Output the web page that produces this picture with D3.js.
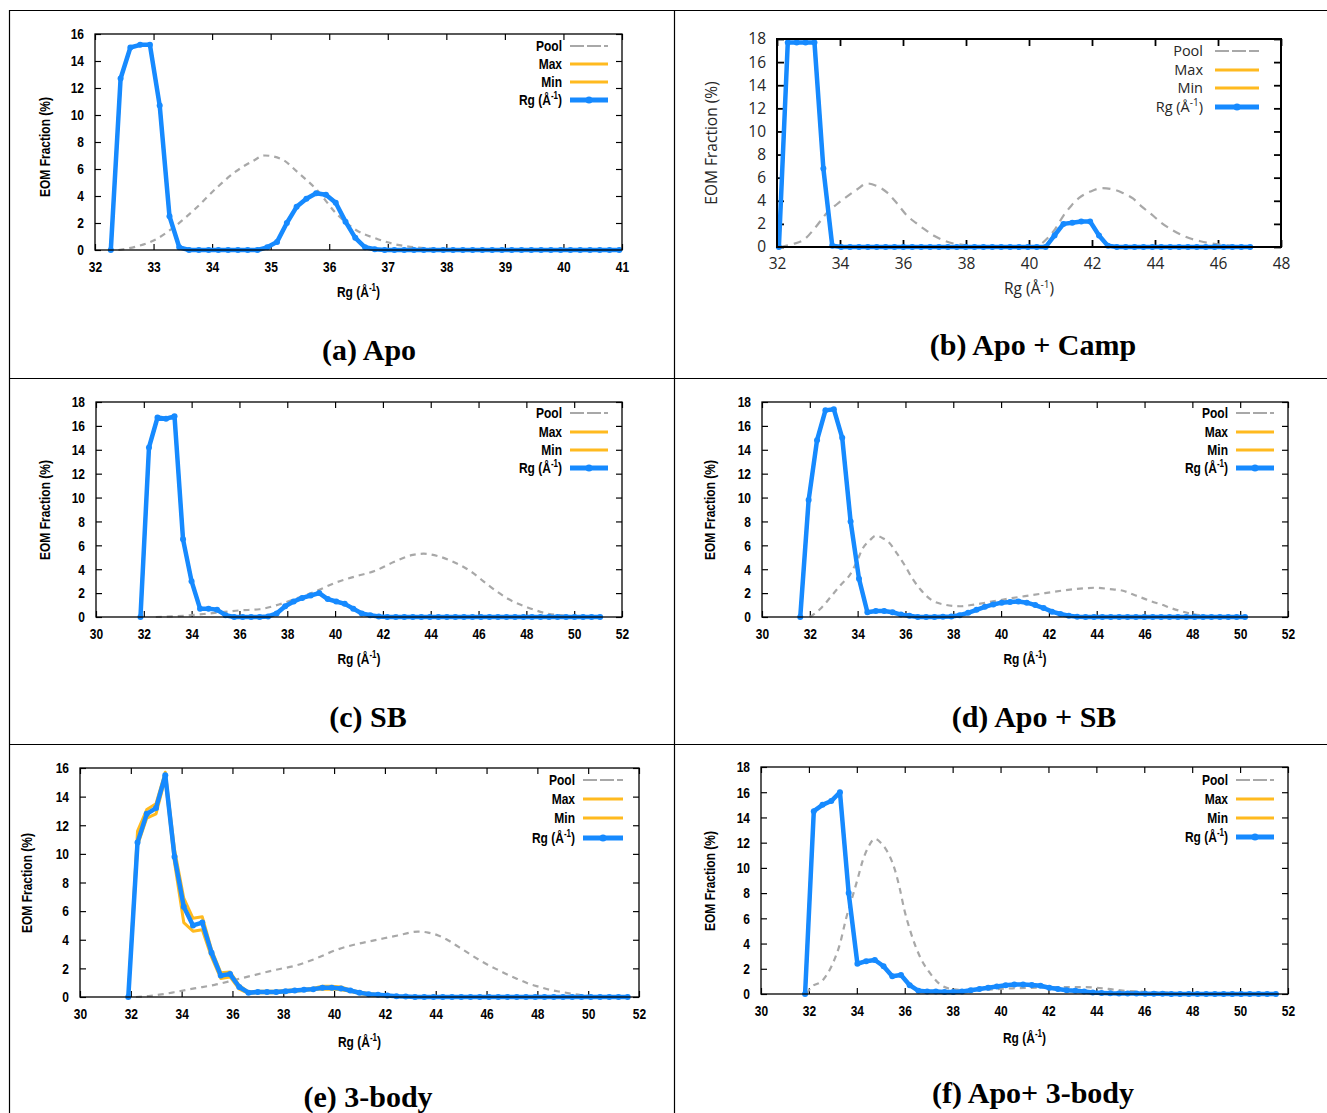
<!DOCTYPE html>
<html>
<head>
<meta charset="utf-8">
<script src="https://cdn.jsdelivr.net/npm/d3@7"></script>
<style>
  body { margin: 0; background: #fff; }
</style>
</head>
<body>
<svg id="fig" width="1327" height="1113"></svg>
<script>
// ---- data ----
// Rg series are sampled on regular bins: start + i * step

// (a) Apo
const aXTicks = [32, 33, 34, 35, 36, 37, 38, 39, 40, 41];
const aYTicks = [0, 2, 4, 6, 8, 10, 12, 14, 16];
const aRgStart = 32.27, aRgStep = 0.167;
const aRg = [0, 12.7, 15.0, 15.2, 15.2, 10.7, 2.5, 0.2,
  0, 0, 0, 0, 0, 0, 0, 0,
  0.2, 0.6, 2.0, 3.2, 3.8, 4.2, 4.1, 3.5, 2.1, 0.9, 0.2, 0.05,
  0, 0, 0, 0, 0, 0, 0, 0, 0, 0, 0, 0, 0, 0, 0, 0, 0, 0, 0, 0, 0, 0, 0, 0, 0];
const aPool = [[32.4, 0], [32.7, 0.25], [33.0, 0.7], [33.35, 1.7], [33.7, 3.0], [34.1, 4.7],
  [34.4, 5.8], [34.7, 6.6], [34.9, 7.0], [35.2, 6.7], [35.45, 5.8], [35.8, 4.4], [36.1, 2.8],
  [36.45, 1.5], [36.8, 0.85], [37.1, 0.45], [37.45, 0.2], [38.1, 0.05], [39, 0], [41, 0]];

// (b) Apo + Camp
const bXTicks = [32, 34, 36, 38, 40, 42, 44, 46, 48];
const bYTicks = [0, 2, 4, 6, 8, 10, 12, 14, 16, 18];
const bRgStart = 32.06, bRgStep = 0.2823;
const bRg = [0, 17.7, 17.7, 17.7, 17.7, 6.8, 0.1,
  0, 0, 0, 0, 0, 0, 0, 0, 0, 0, 0, 0, 0, 0, 0, 0, 0, 0, 0, 0, 0, 0, 0,
  0, 1.0, 2.0, 2.1, 2.2, 2.2, 1.0, 0.1,
  0, 0, 0, 0, 0, 0, 0, 0, 0, 0, 0, 0, 0, 0, 0, 0];
const bPool = [[32.1, 0], [32.5, 0.25], [32.87, 0.66], [33.25, 1.8], [33.6, 3.0], [33.9, 3.7],
  [34.24, 4.4], [34.55, 5.0], [34.86, 5.5], [35.15, 5.3], [35.5, 4.7], [35.8, 3.8], [36.1, 2.8],
  [36.4, 2.1], [36.7, 1.5], [37.0, 0.95], [37.35, 0.5], [37.98, 0.15], [38.5, 0.03], [39.5, 0],
  [40.2, 0.05], [40.6, 0.8], [40.84, 1.6], [41.09, 2.7], [41.35, 3.6], [41.59, 4.25], [41.95, 4.8],
  [42.33, 5.1], [42.65, 5.0], [42.96, 4.7], [43.3, 4.2], [43.58, 3.5], [43.9, 2.8], [44.2, 2.1],
  [44.5, 1.55], [44.8, 1.1], [45.1, 0.75], [45.44, 0.5], [46.06, 0.2], [46.7, 0.05], [47.0, 0]];

// (c) SB
const cXTicks = [30, 32, 34, 36, 38, 40, 42, 44, 46, 48, 50, 52];
const cYTicks = [0, 2, 4, 6, 8, 10, 12, 14, 16, 18];
const cRgStart = 31.86, cRgStep = 0.356;
const cRg = [0, 14.2, 16.7, 16.6, 16.8, 6.5, 3.0, 0.7, 0.7, 0.6, 0.15,
  0, 0, 0, 0,
  0.05, 0.3, 0.9, 1.3, 1.6, 1.8, 2.0, 1.5, 1.3, 1.1, 0.7, 0.3, 0.15, 0.05,
  0, 0, 0, 0, 0, 0, 0, 0, 0, 0, 0, 0, 0, 0, 0, 0, 0, 0, 0, 0, 0, 0, 0, 0, 0, 0];
const cPool = [[32.5, 0], [33.65, 0.1], [34.5, 0.25], [35.25, 0.4], [36.0, 0.55], [36.85, 0.65],
  [37.65, 1.05], [38.45, 1.6], [39.25, 2.2], [40.05, 2.9], [40.85, 3.4], [41.65, 3.85], [42.45, 4.6],
  [43.25, 5.2], [43.7, 5.3], [44.3, 5.1], [44.85, 4.7], [45.65, 3.85], [46.45, 2.6], [47.25, 1.5],
  [48.05, 0.8], [48.85, 0.3], [49.65, 0.1], [50.5, 0.02], [51, 0]];

// (d) Apo + SB
const dXTicks = [30, 32, 34, 36, 38, 40, 42, 44, 46, 48, 50, 52];
const dYTicks = [0, 2, 4, 6, 8, 10, 12, 14, 16, 18];
const dRgStart = 31.6, dRgStep = 0.351;
const dRg = [0, 9.8, 14.8, 17.3, 17.4, 15.0, 8.0, 3.2, 0.4, 0.5, 0.5, 0.4, 0.2, 0.1,
  0, 0, 0,
  0.02, 0.05, 0.15, 0.35, 0.6, 0.85, 1.05, 1.2, 1.25, 1.3, 1.2, 1.0, 0.75, 0.45, 0.25, 0.1, 0.03,
  0, 0, 0, 0, 0, 0, 0, 0, 0, 0, 0, 0, 0, 0, 0, 0, 0, 0, 0, 0];
const dPool = [[32.0, 0], [32.08, 0.1], [32.5, 0.8], [32.9, 1.75], [33.3, 2.7], [33.7, 3.6],
  [34.0, 4.8], [34.2, 5.7], [34.5, 6.4], [34.76, 6.8], [35.05, 6.6], [35.33, 6.2], [35.65, 5.3],
  [35.98, 4.3], [36.3, 3.2], [36.63, 2.3], [37.1, 1.4], [37.6, 1.05], [38.26, 0.9], [38.9, 1.05],
  [39.5, 1.25], [40.2, 1.5], [41.0, 1.75], [41.84, 2.0], [42.7, 2.25], [43.46, 2.4], [43.95, 2.45],
  [44.5, 2.35], [45.1, 2.2], [45.5, 1.9], [45.9, 1.6], [46.3, 1.3], [46.7, 1.05], [47.1, 0.75],
  [47.5, 0.5], [48.0, 0.25], [48.34, 0.15], [49, 0.03], [50, 0]];

// (e) 3-body
const eXTicks = [30, 32, 34, 36, 38, 40, 42, 44, 46, 48, 50, 52];
const eYTicks = [0, 2, 4, 6, 8, 10, 12, 14, 16];
const eRgStart = 31.9, eRgStep = 0.364;
const eRg = [0, 10.8, 12.8, 13.2, 15.5, 9.8, 6.3, 5.0, 5.2, 3.1, 1.5, 1.6, 0.7, 0.3,
  0.35, 0.35, 0.35, 0.4, 0.45, 0.5, 0.55, 0.65, 0.65, 0.6, 0.45, 0.3, 0.2, 0.15, 0.1, 0.05, 0.03,
  0, 0, 0, 0, 0, 0, 0, 0, 0, 0, 0, 0, 0, 0, 0, 0, 0, 0, 0, 0, 0, 0, 0, 0];
const eMax = [0, 11.6, 13.1, 13.5, 15.7, 10.3, 6.9, 5.5, 5.6, 3.3, 1.7, 1.75, 0.8, 0.35,
  0.4, 0.4, 0.4, 0.45, 0.5, 0.55, 0.62, 0.75, 0.75, 0.7, 0.5, 0.35, 0.25, 0.18, 0.12, 0.06, 0.03,
  0, 0, 0, 0, 0, 0, 0, 0, 0, 0, 0, 0, 0, 0, 0, 0, 0, 0, 0, 0, 0, 0, 0, 0];
const eMin = [0, 10.6, 12.5, 12.8, 15.3, 9.4, 5.2, 4.6, 4.7, 2.8, 1.3, 1.4, 0.55, 0.25,
  0.3, 0.3, 0.3, 0.35, 0.4, 0.45, 0.5, 0.55, 0.55, 0.5, 0.4, 0.25, 0.15, 0.1, 0.08, 0.04, 0.02,
  0, 0, 0, 0, 0, 0, 0, 0, 0, 0, 0, 0, 0, 0, 0, 0, 0, 0, 0, 0, 0, 0, 0, 0];
const ePool = [[32.2, 0], [32.7, 0.07], [33.2, 0.18], [33.7, 0.33], [34.5, 0.6], [35.3, 0.85],
  [36.1, 1.2], [36.9, 1.55], [37.7, 1.9], [38.5, 2.2], [39.3, 2.7], [40.1, 3.3], [40.9, 3.7],
  [41.7, 4.0], [42.5, 4.3], [43.3, 4.57], [43.7, 4.5], [44.1, 4.3], [44.5, 3.95], [44.9, 3.5],
  [45.3, 3.05], [45.7, 2.6], [46.1, 2.2], [46.5, 1.85], [46.9, 1.5], [47.3, 1.2], [47.7, 0.9],
  [48.1, 0.7], [48.5, 0.5], [48.9, 0.37], [49.7, 0.14], [50.5, 0.03], [51.5, 0]];

// (f) Apo + 3-body
const fXTicks = [30, 32, 34, 36, 38, 40, 42, 44, 46, 48, 50, 52];
const fYTicks = [0, 2, 4, 6, 8, 10, 12, 14, 16, 18];
const fRgStart = 31.84, fRgStep = 0.364;
const fRg = [0, 14.5, 15.0, 15.3, 16.0, 8.0, 2.4, 2.6, 2.7, 2.2, 1.4, 1.5, 0.7, 0.25,
  0.2, 0.2, 0.15, 0.15, 0.2, 0.3, 0.4, 0.5, 0.6, 0.7, 0.75, 0.75, 0.72, 0.65, 0.5, 0.4,
  0.3, 0.25, 0.2, 0.12, 0.08, 0.05, 0.04, 0.03, 0.03, 0.02, 0.02, 0.01,
  0, 0, 0, 0, 0, 0, 0, 0, 0, 0, 0, 0, 0];
const fPool = [[31.9, 0], [32.08, 0.5], [32.57, 1.07], [33.06, 2.7], [33.3, 4.0], [33.54, 5.9],
  [33.8, 7.6], [34.03, 9.1], [34.25, 10.6], [34.44, 11.5], [34.76, 12.3], [35.0, 12.0], [35.17, 11.6],
  [35.38, 10.9], [35.58, 9.9], [35.8, 8.3], [35.98, 6.7], [36.2, 5.2], [36.47, 3.7], [36.7, 2.7],
  [36.96, 1.9], [37.2, 1.3], [37.45, 0.8], [37.93, 0.4], [38.5, 0.3], [39.5, 0.35], [40.5, 0.45],
  [41.5, 0.5], [42.5, 0.55], [43.5, 0.55], [44.5, 0.4], [45.1, 0.27], [46.0, 0.17], [46.7, 0.13],
  [47.5, 0.07], [48.5, 0.03], [49.5, 0.01], [51.5, 0]];

const legendNames = ['Pool', 'Max', 'Min', 'Rg'];
const yTitle = 'EOM Fraction (%)';

// ---- styling ----
const BLUE = '#168aff', ORANGE = '#ffba1f', GRAY = '#a8a8a8';

// gnuplot-style narrow bold text: Liberation Sans Bold squeezed horizontally
const boldStyle = {
  family: '"Liberation Sans", Arial, sans-serif',
  weight: 'bold', size: 15, legSize: 15, sx: 0.8, fill: '#000', tick: 6, frame: 1.3, dash: '6,5', sup: 10
};
const plainStyle = {
  family: '"Open Sans", "DejaVu Sans", sans-serif',
  weight: 'normal', size: 15.5, legSize: 14.5, sx: 1, fill: '#262626', tick: 7, frame: 2, dash: '8,6', sup: 10
};

const panels = [
  { left: 95, right: 622, top: 34, bottom: 250, xd: [32, 41], yd: [0, 16], xt: aXTicks, yt: aYTicks,
    start: aRgStart, step: aRgStep, rg: aRg, max: aRg, min: aRg, pool: aPool, st: boldStyle,
    yl: [45, 147], xlDy: 47, leg: { text: 60, l0: 52, l1: 14, rows: [12, 30, 48, 66] },
    cap: '(a) Apo', capX: 369, capY: 360 },
  { left: 777, right: 1281, top: 39, bottom: 247, xd: [32, 48], yd: [0, 18], xt: bXTicks, yt: bYTicks,
    start: bRgStart, step: bRgStep, rg: bRg, max: bRg, min: bRg, pool: bPool, st: plainStyle,
    yl: [712, 143], xlDy: 47, leg: { text: 78, l0: 66, l1: 22, rows: [12, 31, 49, 68] },
    cap: '(b) Apo + Camp', capX: 1033, capY: 355 },
  { left: 96, right: 622, top: 402, bottom: 617, xd: [30, 52], yd: [0, 18], xt: cXTicks, yt: cYTicks,
    start: cRgStart, step: cRgStep, rg: cRg, max: cRg, min: cRg, pool: cPool, st: boldStyle,
    yl: [45, 510], xlDy: 47, leg: { text: 60, l0: 52, l1: 14, rows: [11, 30, 48, 66] },
    cap: '(c) SB', capX: 368, capY: 727 },
  { left: 762, right: 1288, top: 402, bottom: 617, xd: [30, 52], yd: [0, 18], xt: dXTicks, yt: dYTicks,
    start: dRgStart, step: dRgStep, rg: dRg, max: dRg, min: dRg, pool: dPool, st: boldStyle,
    yl: [710, 510], xlDy: 47, leg: { text: 60, l0: 52, l1: 14, rows: [11, 30, 48, 66] },
    cap: '(d) Apo + SB', capX: 1034, capY: 727 },
  { left: 80, right: 639, top: 768, bottom: 997, xd: [30, 52], yd: [0, 16], xt: eXTicks, yt: eYTicks,
    start: eRgStart, step: eRgStep, rg: eRg, max: eMax, min: eMin, pool: ePool, st: boldStyle,
    yl: [27, 883], xlDy: 50, leg: { text: 64, l0: 56, l1: 16, rows: [12, 31, 50, 70] },
    cap: '(e) 3-body', capX: 368, capY: 1107 },
  { left: 761, right: 1288, top: 767, bottom: 994, xd: [30, 52], yd: [0, 18], xt: fXTicks, yt: fYTicks,
    start: fRgStart, step: fRgStep, rg: fRg, max: fRg, min: fRg, pool: fPool, st: boldStyle,
    yl: [710, 881], xlDy: 49, leg: { text: 60, l0: 52, l1: 14, rows: [13, 32, 51, 70] },
    cap: '(f) Apo+ 3-body', capX: 1033, capY: 1103 }
];

const svg = d3.select('#fig');

// table grid around the panels
const grid = svg.append('g').attr('stroke', '#000').attr('stroke-width', 1.2);
[[9, 10.5, 1327, 10.5], [9, 378.5, 1327, 378.5], [9, 744.5, 1327, 744.5],
 [9.5, 10, 9.5, 1113], [674.5, 10, 674.5, 1113]].forEach(l =>
  grid.append('line').attr('x1', l[0]).attr('y1', l[1]).attr('x2', l[2]).attr('y2', l[3]));

function fontify(sel, st, size) {
  sel.attr('font-family', st.family).attr('font-weight', st.weight)
    .attr('font-size', size || st.size).attr('fill', st.fill);
}

// squeeze a text horizontally around its own anchor point
function squeeze(sel, st) {
  if (st.sx === 1) return;
  sel.each(function () {
    const t = d3.select(this);
    const tx = +t.attr('x') || 0, ty = +t.attr('y') || 0;
    const prev = t.attr('transform') || '';
    t.attr('transform', `${prev} translate(${tx},${ty}) scale(${st.sx},1) translate(${-tx},${-ty})`);
  });
}

// "Rg (Å-1)" with a raised -1
function rgLabel(text, st) {
  text.append('tspan').text('Rg (Å');
  text.append('tspan').attr('dy', -6).attr('font-size', st.sup).text('-1');
  text.append('tspan').attr('dy', 6).text(')');
}

function drawPanel(p) {
  const st = p.st;
  const x = d3.scaleLinear().domain(p.xd).range([p.left, p.right]);
  const y = d3.scaleLinear().domain(p.yd).range([p.bottom, p.top]);
  const g = svg.append('g');

  const bins = vals => vals.map((v, i) => [p.start + i * p.step, v]);
  const line = d3.line().x(d => x(d[0])).y(d => y(d[1]));

  // axes with inward ticks, mirrored on top and right
  const axes = [
    [d3.axisBottom(x).tickValues(p.xt), `translate(0,${p.bottom})`],
    [d3.axisTop(x).tickValues(p.xt).tickFormat(''), `translate(0,${p.top})`],
    [d3.axisLeft(y).tickValues(p.yt), `translate(${p.left},0)`],
    [d3.axisRight(y).tickValues(p.yt).tickFormat(''), `translate(${p.right},0)`]
  ];
  axes.forEach(([ax, tr]) => {
    const a = g.append('g').attr('transform', tr)
      .call(ax.tickSizeInner(-st.tick).tickSizeOuter(0).tickPadding(11));
    a.select('.domain').remove();
    a.selectAll('line').attr('stroke', '#000').attr('stroke-width', st.frame * 0.9);
    fontify(a.selectAll('text'), st);
    squeeze(a.selectAll('text'), st);
    a.attr('font-family', null).attr('font-size', null);
  });

  // pool, max, min, Rg
  g.append('path')
    .attr('d', line.curve(d3.curveMonotoneX)(p.pool))
    .attr('fill', 'none').attr('stroke', GRAY).attr('stroke-width', 2.2)
    .attr('stroke-dasharray', st.dash);
  line.curve(d3.curveLinear);

  [p.max, p.min].forEach(s => {
    g.append('path').attr('d', line(bins(s)))
      .attr('fill', 'none').attr('stroke', ORANGE).attr('stroke-width', 3)
      .attr('stroke-linejoin', 'round');
  });

  const rgPts = bins(p.rg);
  g.append('path').attr('d', line(rgPts))
    .attr('fill', 'none').attr('stroke', BLUE).attr('stroke-width', 4.5)
    .attr('stroke-linejoin', 'round');
  g.append('g').selectAll('circle').data(rgPts).join('circle')
    .attr('cx', d => x(d[0])).attr('cy', d => y(d[1])).attr('r', 3)
    .attr('fill', BLUE);

  // frame
  g.append('rect')
    .attr('x', p.left).attr('y', p.top)
    .attr('width', p.right - p.left).attr('height', p.bottom - p.top)
    .attr('fill', 'none').attr('stroke', '#000').attr('stroke-width', st.frame);

  // axis titles
  const yl = g.append('text')
    .attr('transform', `translate(${p.yl[0]},${p.yl[1]}) rotate(-90) scale(${st.sx},1)`)
    .attr('text-anchor', 'middle').attr('dy', '0.35em').text(yTitle);
  fontify(yl, st);

  const xl = g.append('text')
    .attr('x', (p.left + p.right) / 2).attr('y', p.bottom + p.xlDy)
    .attr('text-anchor', 'middle');
  rgLabel(xl, st);
  fontify(xl, st);
  squeeze(xl, st);

  // legend
  const lg = p.leg;
  legendNames.forEach((name, i) => {
    const ly = p.top + lg.rows[i];
    const t = g.append('text')
      .attr('x', p.right - lg.text).attr('y', ly)
      .attr('dy', '0.35em').attr('text-anchor', 'end');
    if (name === 'Rg') rgLabel(t, st); else t.text(name);
    fontify(t, st, st.legSize);
    squeeze(t, st);

    const sample = g.append('line')
      .attr('x1', p.right - lg.l0).attr('x2', p.right - lg.l1)
      .attr('y1', ly).attr('y2', ly);
    if (name === 'Pool') {
      sample.attr('stroke', GRAY).attr('stroke-width', 2).attr('stroke-dasharray', '14,3');
    } else if (name === 'Rg') {
      sample.attr('stroke', BLUE).attr('stroke-width', 5);
      g.append('circle').attr('cx', p.right - (lg.l0 + lg.l1) / 2).attr('cy', ly)
        .attr('r', 3.5).attr('fill', BLUE);
    } else {
      sample.attr('stroke', ORANGE).attr('stroke-width', 3);
    }
  });

  // caption under the panel
  svg.append('text')
    .attr('x', p.capX).attr('y', p.capY)
    .attr('text-anchor', 'middle')
    .attr('font-family', '"Liberation Serif", "Times New Roman", serif')
    .attr('font-weight', 'bold').attr('font-size', 30).attr('fill', '#000')
    .text(p.cap);
}

panels.forEach(drawPanel);
</script>
</body>
</html>
